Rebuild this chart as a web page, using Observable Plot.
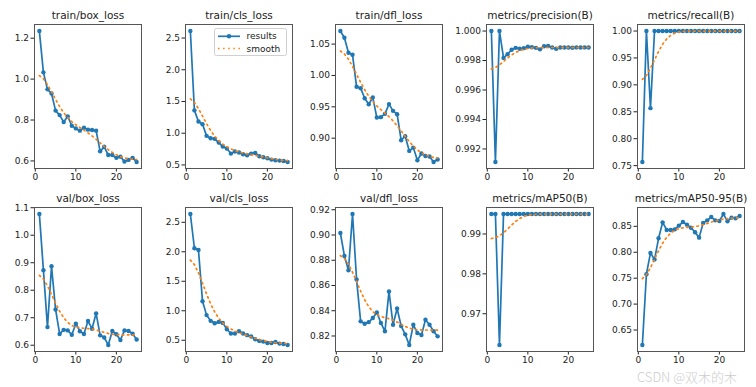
<!DOCTYPE html>
<html><head><meta charset="utf-8">
<script src="https://cdn.jsdelivr.net/npm/d3@7"></script>
<script src="https://cdn.jsdelivr.net/npm/@observablehq/plot@0.6"></script>
<style>
body{margin:0;background:#fff;}
#chart{position:relative;width:756px;height:387px;overflow:hidden;font-family:"DejaVu Sans",sans-serif;background:#fff;}
#chart svg.plotpanel{position:absolute;overflow:visible;background:transparent;}
#legend{position:absolute;}
#wm{position:absolute;left:637px;top:367px;font-family:"Noto Sans CJK SC","DejaVu Sans",sans-serif;font-weight:300;font-size:13px;color:#cdcdcd;white-space:nowrap;}
</style></head><body><div id="chart"></div>
<script>
// ---- data ----
const epochs = [1,2,3,4,5,6,7,8,9,10,11,12,13,14,15,16,17,18,19,20,21,22,23,24,25];
const titles = ["train/box_loss","train/cls_loss","train/dfl_loss","metrics/precision(B)","metrics/recall(B)",
                "val/box_loss","val/cls_loss","val/dfl_loss","metrics/mAP50(B)","metrics/mAP50-95(B)"];
const trainBox = [1.235,1.033,0.950,0.930,0.846,0.824,0.790,0.818,0.772,0.759,0.748,0.762,0.753,0.751,0.748,0.647,0.669,0.629,0.629,0.615,0.621,0.597,0.605,0.615,0.595];
const trainCls = [2.61,1.36,1.184,1.142,0.958,0.921,0.911,0.853,0.789,0.758,0.679,0.711,0.695,0.668,0.653,0.679,0.689,0.637,0.621,0.605,0.584,0.574,0.568,0.563,0.547];
const trainDfl = [1.0708,1.0601,1.0361,1.0329,0.9819,0.9797,0.9637,0.9541,0.9651,0.9329,0.9335,0.9388,0.9543,0.9436,0.9382,0.8968,0.9032,0.8797,0.8850,0.8648,0.8755,0.8717,0.8707,0.8621,0.8659];
const precision = [1.0,0.99112,1.0,0.99818,0.99843,0.99873,0.99886,0.9988,0.99884,0.99893,0.9989,0.99886,0.99876,0.99897,0.99899,0.99888,0.9988,0.99888,0.99888,0.99888,0.99887,0.99889,0.99888,0.99889,0.99888];
const recall = [0.7568,1.0,0.8568,1.0,1.0,1.0,1.0,1.0,1.0,1.0,1.0,1.0,1.0,1.0,1.0,1.0,1.0,1.0,1.0,1.0,1.0,1.0,1.0,1.0,1.0];
const valBox = [1.077,0.873,0.666,0.887,0.730,0.641,0.656,0.654,0.638,0.678,0.651,0.641,0.688,0.660,0.716,0.636,0.628,0.601,0.652,0.640,0.619,0.654,0.652,0.642,0.621];
const valCls = [2.64,2.06,2.029,1.16,0.926,0.829,0.789,0.811,0.794,0.686,0.614,0.614,0.654,0.614,0.586,0.563,0.517,0.489,0.477,0.454,0.454,0.471,0.443,0.437,0.42];
const valDfl = [0.9016,0.8834,0.8721,0.9166,0.8647,0.8316,0.8297,0.8310,0.8342,0.8387,0.8303,0.8237,0.8553,0.8289,0.8418,0.8279,0.8213,0.8129,0.8289,0.8224,0.8208,0.8329,0.8289,0.8237,0.8197];
const mAP50 = [0.995,0.995,0.96217,0.995,0.995,0.995,0.995,0.995,0.995,0.995,0.995,0.995,0.995,0.995,0.995,0.995,0.995,0.995,0.995,0.995,0.995,0.995,0.995,0.995,0.995];
const mAP5095 = [0.6212,0.7577,0.7987,0.7859,0.8269,0.8577,0.843,0.843,0.8442,0.8513,0.8583,0.8532,0.8474,0.8385,0.8282,0.8564,0.8615,0.8679,0.8615,0.8603,0.8737,0.8596,0.8667,0.8654,0.8699];
const seriesList = [trainBox,trainCls,trainDfl,precision,recall,valBox,valCls,valDfl,mAP50,mAP5095];
const xTicks = [0,10,20];
const yTicks = [[0.6,0.8,1.0,1.2],[0.5,1.0,1.5,2.0,2.5],[0.90,0.95,1.00,1.05],[0.992,0.994,0.996,0.998,1.000],[0.75,0.80,0.85,0.90,0.95,1.00],
                [0.6,0.7,0.8,0.9,1.0,1.1],[0.5,1.0,1.5,2.0,2.5],[0.82,0.84,0.86,0.88,0.90,0.92],[0.97,0.98,0.99],[0.65,0.70,0.75,0.80,0.85]];
const yFormats = [".1f",".1f",".2f",".3f",".2f",".1f",".1f",".2f",".2f",".2f"];
const legendLabels = ["results","smooth"];
const watermark = "CSDN @双木的木";

// ---- smoothing (gaussian_filter1d, sigma=3, reflect), as in the source plot ----
function gaussSmooth(y, sigma=3){
  const r = Math.round(4*sigma), n = y.length;
  const w = d3.range(-r, r+1).map(k => Math.exp(-0.5*k*k/(sigma*sigma)));
  const ws = d3.sum(w);
  const idx = i => { let j = i; while (j < 0 || j >= n) { if (j < 0) j = -j - 1; if (j >= n) j = 2*n - j - 1; } return j; };
  return y.map((_, i) => d3.sum(w, (wk, k) => wk * y[idx(i + k - r)]) / ws);
}

// ---- layout ----
const colLeft = [33.5,184.5,335,486,637];
const rowTop = [24,207];
const fw = 107, fh = 144;
const ml = 36, mr = 8, mt = 24, mb = 20;

const chart = document.getElementById("chart");
seriesList.forEach((vals, i) => {
  const sm = gaussSmooth(vals);
  const rows = epochs.map((e, k) => ({epoch: e, value: vals[k], smooth: sm[k]}));
  const lo = Math.min(d3.min(vals), d3.min(sm)), hi = Math.max(d3.max(vals), d3.max(sm));
  const pad = (hi - lo) * 0.05;
  const p = Plot.plot({
    width: ml + fw + mr, height: mt + fh + mb,
    marginLeft: ml, marginRight: mr, marginTop: mt, marginBottom: mb,
    style: {background: "transparent", overflow: "visible", fontFamily: "DejaVu Sans, sans-serif", fontSize: "9px", color: "#222"},
    x: {domain: [-0.2, 26.2], ticks: xTicks, tickFormat: "d", tickSize: 3.5, tickPadding: 2, label: null},
    y: {domain: [lo - pad, hi + pad], ticks: yTicks[i], tickFormat: d3.format(yFormats[i]), tickSize: 3.5, tickPadding: 2, label: null},
    marks: [
      Plot.line(rows, {x: "epoch", y: "value", stroke: "#1f77b4", strokeWidth: 1.7}),
      Plot.dot(rows, {x: "epoch", y: "value", r: 2.2, fill: "#1f77b4", stroke: "none"}),
      Plot.line(rows, {x: "epoch", y: "smooth", stroke: "#ff7f0e", strokeWidth: 1.7, strokeDasharray: "1.5,3.6"}),
      Plot.frame({stroke: "#555", strokeWidth: 1}),
      Plot.text([titles[i]], {frameAnchor: "top", dy: -6, lineAnchor: "bottom", fontSize: 10.5, fill: "#222"})
    ]
  });
  p.classList.add("plotpanel");
  p.style.left = (colLeft[i % 5] - ml) + "px";
  p.style.top = (rowTop[Math.floor(i / 5)] - mt) + "px";
  chart.appendChild(p);
});

// legend (panel 2)
const ns = "http://www.w3.org/2000/svg";
const lg = document.createElementNS(ns, "svg");
lg.setAttribute("id", "legend");
lg.setAttribute("width", 73); lg.setAttribute("height", 28);
lg.style.left = "214px"; lg.style.top = "28px";
lg.innerHTML = `
<rect x="0.5" y="0.5" width="72" height="27" rx="2" fill="#fff" fill-opacity="0.8" stroke="#d0d0d0"/>
<line x1="4" x2="26" y1="8.3" y2="8.3" stroke="#1f77b4" stroke-width="1.7"/>
<circle cx="15" cy="8.3" r="2.2" fill="#1f77b4"/>
<text x="32.5" y="8.3" dy="0.35em" font-family="DejaVu Sans, sans-serif" font-size="9" fill="#222">${legendLabels[0]}</text>
<line x1="4" x2="26" y1="20.5" y2="20.5" stroke="#ff7f0e" stroke-width="1.7" stroke-dasharray="1.5,3.6"/>
<text x="32.5" y="20.5" dy="0.35em" font-family="DejaVu Sans, sans-serif" font-size="9" fill="#222">${legendLabels[1]}</text>`;
chart.appendChild(lg);

const wm = document.createElement("div");
wm.id = "wm"; wm.textContent = watermark;
chart.appendChild(wm);
</script></body></html>
